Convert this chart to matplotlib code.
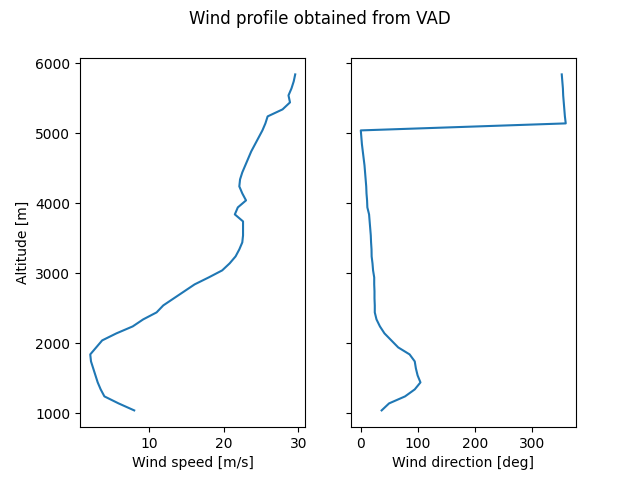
import numpy as np
import matplotlib
matplotlib.use('Agg')
import matplotlib.pyplot as plt

# altitude levels of the VAD retrieval [m]
altitude = np.arange(1040, 5841, 100)

# wind speed [m/s]
wind_speed = [8.0, 5.9, 4.0, 3.5, 3.1, 2.8, 2.5, 2.2, 2.1, 2.9,
              3.7, 5.6, 7.8, 9.2, 11.0, 11.9, 13.3, 14.7, 16.1, 18.0,
              19.8, 20.8, 21.6, 22.1, 22.5, 22.6, 22.6, 22.6, 21.5, 21.9,
              23.0, 22.5, 22.1, 22.2, 22.5, 22.9, 23.3, 23.7, 24.2, 24.7,
              25.2, 25.6, 25.9, 27.9, 28.9, 28.7, 29.1, 29.4, 29.6]

# wind direction [deg]
wind_dir = [37, 50, 78, 95, 105, 100, 97, 95, 86, 66,
            54, 42, 34, 28, 25, 25, 24.5, 24.5, 24, 24,
            22, 21, 19.5, 19.3, 18.5, 18, 17, 16, 15, 12,
            11.5, 10.5, 10, 9, 8, 7, 5.5, 4, 2.5, 1.5,
            0.5, 359.5, 358, 357, 356, 355, 354.5, 353.5, 352.5]

fig, axs = plt.subplots(1, 2, sharey=True, figsize=(6.4, 4.8), dpi=100)
fig.suptitle('Wind profile obtained from VAD')

axs[0].plot(wind_speed, altitude)
axs[0].set_xlabel('Wind speed [m/s]')
axs[0].set_ylabel('Altitude [m]')

axs[1].plot(wind_dir, altitude)
axs[1].set_xlabel('Wind direction [deg]')

fig.savefig('out.png')
